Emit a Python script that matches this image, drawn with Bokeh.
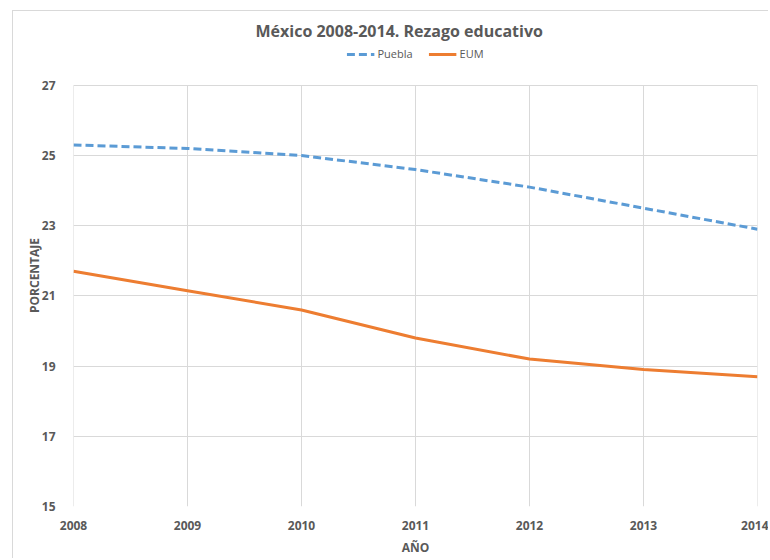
from bokeh.plotting import figure
from bokeh.models import Legend, LegendItem, FixedTicker, Range1d
from bokeh.embed import file_html
from bokeh.resources import INLINE

years = [2008, 2009, 2010, 2011, 2012, 2013, 2014]
puebla = [25.3, 25.2, 25.0, 24.6, 24.1, 23.5, 22.9]
eum = [21.7, 21.15, 20.6, 19.8, 19.2, 18.9, 18.7]
y_ticks = [15, 17, 19, 21, 23, 25, 27]

FONT = "Open Sans"
GRAY = "#595959"
GRID = "#d9d9d9"

# frame extends a little above the top tick so the legend can sit inside it
y_top = y_ticks[-1] + 41 / 35.25

p = figure(width=768, height=558, output_backend="svg", toolbar_location=None,
           x_range=Range1d(years[0], years[-1]), y_range=Range1d(y_ticks[0], y_top),
           min_border_left=73, min_border_right=11, min_border_bottom=50,
           min_border_top=44)

p.border_fill_color = None
p.background_fill_color = "white"
p.styles = {"background": "linear-gradient(#d9d9d9,#d9d9d9) 12px 10px / 1px 100% no-repeat, "
                          "linear-gradient(#d9d9d9,#d9d9d9) 12px 10px / 100% 1px no-repeat, white"}

p.title.text = "México 2008-2014.  Rezago educativo"
p.title.align = "left"
p.title.offset = 182
p.title.standoff = 6
p.title.text_font = FONT
p.title.text_font_size = "16px"
p.title.text_font_style = "bold"
p.title.text_color = GRAY

# vertical grid lines only across the tick span
p.segment(x0=years, y0=[y_ticks[0]] * len(years), x1=years, y1=[y_ticks[-1]] * len(years),
          line_color=GRID, line_width=1)

r1 = p.line(years, puebla, line_color="#5B9BD5", line_width=3, line_dash="8 4")
r2 = p.line(years, eum, line_color="#ED7D31", line_width=3)

legend = Legend(items=[LegendItem(label="Puebla", renderers=[r1]),
                       LegendItem(label="EUM", renderers=[r2])],
                orientation="horizontal", location="top_center",
                label_text_font=FONT, label_text_font_size="11px",
                label_text_color=GRAY, glyph_width=28, glyph_height=14,
                label_standoff=3, label_height=14,
                spacing=16, padding=2, margin=2, border_line_color=None,
                background_fill_alpha=0)
p.add_layout(legend)

for ax in (p.xaxis[0], p.yaxis[0]):
    ax.axis_line_color = None
    ax.major_tick_line_color = None
    ax.minor_tick_line_color = None
    ax.major_label_text_font = FONT
    ax.major_label_text_font_size = "12px"
    ax.major_label_text_font_style = "bold"
    ax.major_label_text_color = GRAY
    ax.axis_label_text_font = FONT
    ax.axis_label_text_font_size = "12px"
    ax.axis_label_text_font_style = "bold"
    ax.axis_label_text_color = GRAY

p.xaxis.ticker = FixedTicker(ticks=years)
p.yaxis.ticker = FixedTicker(ticks=y_ticks)
p.xaxis.axis_label = "AÑO"
p.yaxis.axis_label = "PORCENTAJE"
p.xaxis.major_label_standoff = 8
p.yaxis.major_label_standoff = 12
p.xaxis.axis_label_standoff = 6
p.yaxis.axis_label_standoff = -4

p.xgrid.grid_line_color = None
p.ygrid.grid_line_color = GRID
p.outline_line_color = None

open("out.html", "w").write(file_html(p, INLINE))
